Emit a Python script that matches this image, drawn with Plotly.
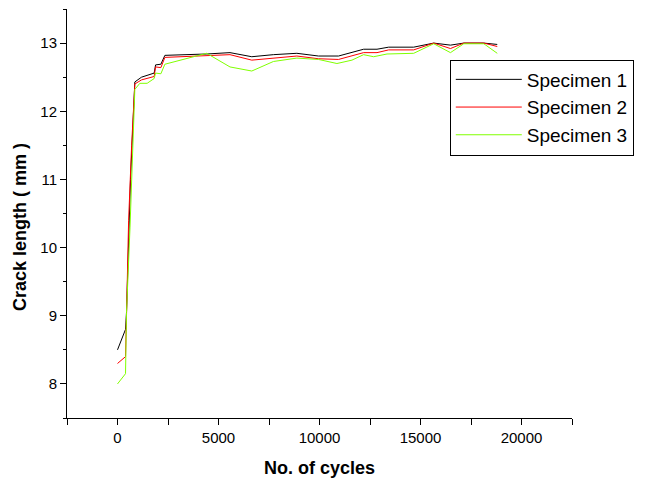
import plotly.graph_objects as go

x1 = [0, 397, 446, 645, 858, 1190, 1815, 1885, 2148, 2346, 4415, 5570, 6647, 7718, 8879, 9950,
      10942, 12183, 12847, 13423, 14663, 15655, 16483, 17143, 18135, 18800]
y1 = [8.50, 8.80, 9.05, 11.0, 12.43, 12.50, 12.56, 12.68, 12.69, 12.82, 12.84, 12.86, 12.80, 12.83,
      12.85, 12.81, 12.81, 12.91, 12.91, 12.94, 12.94, 13.00, 12.97, 13.00, 13.00, 12.98]

x2 = [0, 397, 446, 550, 700, 858, 1190, 1815, 1885, 2148, 2346, 4415, 5570, 6647, 7718, 8879, 9950,
      10942, 12183, 12847, 13423, 14663, 15655, 16483, 17143, 18135, 18800]
y2 = [8.30, 8.40, 9.00, 10.4, 11.5, 12.40, 12.46, 12.51, 12.65, 12.64, 12.79, 12.81, 12.83, 12.75,
      12.78, 12.81, 12.77, 12.76, 12.86, 12.86, 12.90, 12.90, 13.00, 12.92, 13.00, 13.00, 12.95]

x3 = [0, 397, 446, 600, 620, 858, 1106, 1468, 1815, 1885, 2148, 2346, 4415, 5570, 6647, 7718, 8879,
      9950, 10863, 11607, 12183, 12679, 13343, 14663, 15655, 16483, 17143, 18135, 18800]
y3 = [8.00, 8.15, 9.05, 10.0, 10.3, 12.32, 12.41, 12.41, 12.48, 12.56, 12.55, 12.69, 12.85, 12.65,
      12.59, 12.73, 12.78, 12.76, 12.70, 12.75, 12.83, 12.80, 12.84, 12.85, 12.99, 12.86, 12.99,
      12.99, 12.85]

names = ["Specimen 1", "Specimen 2", "Specimen 3"]
colors = ["#000000", "#FF0000", "#80FF00"]
x_major = [0, 5000, 10000, 15000, 20000]
x_minor = [-2500, 2500, 7500, 12500, 17500, 22500]

fig = go.Figure()
for xs, ys, n, c in zip([x1, x2, x3], [y1, y2, y3], names, colors):
    fig.add_trace(go.Scatter(x=xs, y=ys, mode="lines", name=n,
                             line=dict(color=c, width=1)))

font = "Liberation Sans, Arial, sans-serif"
fig.update_layout(
    width=638, height=471,
    margin=dict(l=59, r=74, t=1, b=61, autoexpand=False),
    paper_bgcolor="white", plot_bgcolor="white",
    font=dict(family=font, size=15, color="black"),
    showlegend=True,
    legend=dict(x=0.758, y=0.8765, xanchor="left", yanchor="top",
                bordercolor="black", borderwidth=1, bgcolor="white",
                font=dict(size=19, family=font), tracegroupgap=0,
                itemwidth=66),
    annotations=[
        dict(text="<b>No. of cycles</b>", xref="paper", yref="paper",
             x=0.5, y=-0.122, xanchor="center", yanchor="middle", showarrow=False,
             font=dict(size=18, family=font)),
        dict(text="<b>Crack length ( mm )</b>", xref="paper", yref="paper",
             x=-0.093, y=0.467, xanchor="center", yanchor="middle", showarrow=False,
             textangle=-90, font=dict(size=18, family=font)),
    ],
)
fig.update_xaxes(
    range=[-2500, 22500], tickvals=x_major, ticktext=[str(v) for v in x_major],
    showline=True, linecolor="black", linewidth=1, mirror=False,
    ticks="outside", ticklen=6, tickwidth=1, tickcolor="black",
    minor=dict(tickvals=x_minor, ticks="outside", ticklen=6, tickcolor="black"),
    showgrid=False, zeroline=False, automargin=False,
    tickfont=dict(size=15),
)
fig.update_yaxes(
    range=[7.5, 13.5], dtick=1,
    showline=True, linecolor="black", linewidth=1, mirror=False,
    ticks="outside", ticklen=6, tickwidth=1, tickcolor="black",
    minor=dict(dtick=0.5, ticks="outside", ticklen=3, tickcolor="black"),
    showgrid=False, zeroline=False, automargin=False,
    tickfont=dict(size=15),
)
fig.write_html("out.html")
